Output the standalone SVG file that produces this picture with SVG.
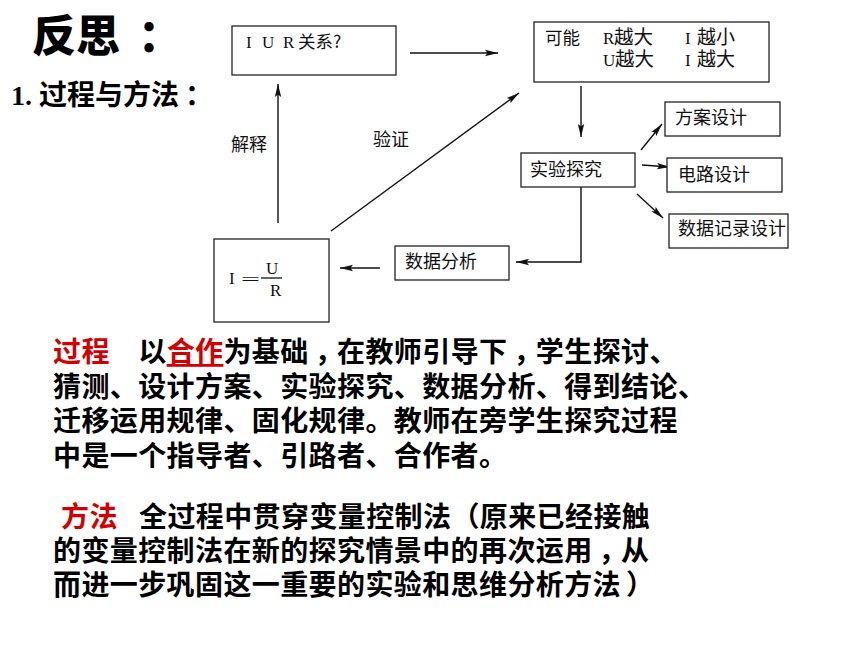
<svg xmlns="http://www.w3.org/2000/svg" width="860" height="645" viewBox="0 0 860 645">
<style>
.box{fill:#fff;stroke:#222;stroke-width:1.3}
.ln{fill:none;stroke:#111;stroke-width:1.4}
.lbl{font-family:"Liberation Serif","Noto Sans CJK SC",serif;font-size:17px;fill:#111}
.cjk{font-family:"Noto Sans CJK SC",sans-serif}
.cj{font-family:"Noto Sans CJK SC",sans-serif;font-size:18px;fill:#111}
.para{font-family:"Noto Sans CJK SC",sans-serif;font-size:28px;font-weight:700;letter-spacing:0.4px;fill:#000}
.red{fill:#d40000}
</style>
<defs>
<marker id="ah" markerUnits="userSpaceOnUse" markerWidth="14" markerHeight="8" refX="13" refY="4" orient="auto">
<path d="M0,0.8 L13,4 L0,7.2 L2.5,4 z" fill="#111"/>
</marker>
</defs>
<rect width="860" height="645" fill="#fff"/>

<text x="32" y="52" font-family="Noto Sans CJK SC,sans-serif" font-size="44" font-weight="900" fill="#000">反思<tspan dx="18">：</tspan></text>
<text x="11" y="105" font-family="Liberation Serif,Noto Sans CJK SC,serif" font-size="28" font-weight="700" fill="#000">1. <tspan font-family="Noto Sans CJK SC,sans-serif">过程与方法<tspan dx="6">：</tspan></tspan></text>

<g id="connectors">
<line class="ln" x1="410" y1="53" x2="498" y2="53" marker-end="url(#ah)"/>
<line class="ln" x1="581" y1="86" x2="581" y2="137" marker-end="url(#ah)"/>
<line class="ln" x1="641" y1="150" x2="662" y2="124" marker-end="url(#ah)"/>
<line class="ln" x1="642" y1="165" x2="670" y2="167" marker-end="url(#ah)"/>
<line class="ln" x1="637" y1="194" x2="663" y2="218" marker-end="url(#ah)"/>
<polyline class="ln" points="581,187 581,262 516,262" marker-end="url(#ah)"/>
<line class="ln" x1="380" y1="268" x2="340" y2="268" marker-end="url(#ah)"/>
<line class="ln" x1="278" y1="223" x2="278" y2="84" marker-end="url(#ah)"/>
<line class="ln" x1="331" y1="231" x2="519" y2="93" marker-end="url(#ah)"/>
<text class="cj" x="231" y="151" font-size="17.5">解释</text>
<text class="cj" x="373" y="146" font-size="17.5">验证</text>
</g>

<g id="node-iur">
<rect class="box" x="232" y="26" width="164" height="49"/>
<text class="lbl" y="48"><tspan x="246">I</tspan><tspan x="262">U</tspan><tspan x="283">R</tspan><tspan x="298" class="cjk" font-size="17.5">关系?</tspan></text>
</g>

<g id="node-possible">
<rect class="box" x="534" y="22" width="235" height="60"/>
<text class="lbl" y="44" font-size="16"><tspan x="545" class="cjk" font-size="17.5">可能</tspan><tspan x="603">R</tspan><tspan x="614" class="cjk" font-size="19.5">越大</tspan><tspan x="685">I</tspan><tspan x="697" class="cjk" font-size="19">越小</tspan></text>
<text class="lbl" y="66" font-size="16"><tspan x="603">U</tspan><tspan x="615" class="cjk" font-size="19.5">越大</tspan><tspan x="685">I</tspan><tspan x="697" class="cjk" font-size="19">越大</tspan></text>
</g>

<g id="node-experiment">
<rect class="box" x="521" y="153" width="114" height="34"/>
<text class="cj" x="530" y="176">实验探究</text>
</g>

<g id="node-plan">
<rect class="box" x="665" y="102" width="115" height="34"/>
<text class="cj" x="675" y="124">方案设计</text>
</g>

<g id="node-circuit">
<rect class="box" x="667" y="158" width="115" height="34"/>
<text class="cj" x="678" y="181">电路设计</text>
</g>

<g id="node-record">
<rect class="box" x="669" y="214" width="119" height="34"/>
<text class="cj" x="678" y="235" font-size="16.5">数据记录设计</text>
</g>

<g id="node-analysis">
<rect class="box" x="395" y="246" width="114" height="34"/>
<text class="cj" x="405" y="268">数据分析</text>
</g>

<g id="node-formula">
<rect class="box" x="214" y="239" width="115" height="83"/>
<text class="lbl" font-size="19" x="229" y="284">I</text>
<text class="lbl" font-size="22" x="241" y="285" textLength="19" lengthAdjust="spacingAndGlyphs">=</text>
<line x1="261" y1="278" x2="282" y2="278" stroke="#111" stroke-width="1.3"/>
<text class="lbl" font-size="19" x="266" y="274">U</text>
<text class="lbl" font-size="19" x="270" y="296">R</text>
</g>

<g id="paragraph-process">
<text class="para" x="53" y="362"><tspan class="red">过程</tspan>　以<tspan class="red" text-decoration="underline">合作</tspan>为基础<tspan dx="6">，</tspan><tspan dx="-6">在教师引导下</tspan><tspan dx="6">，</tspan><tspan dx="-6">学生探讨、</tspan></text>
<text class="para" x="53" y="396.5">猜测、设计方案、实验探究、数据分析、得到结论、</text>
<text class="para" x="53" y="431">迁移运用规律、固化规律。教师在旁学生探究过程</text>
<text class="para" x="53" y="465.5">中是一个指导者、引路者、合作者。</text>
</g>

<g id="paragraph-method">
<text class="para red" x="61" y="527">方法</text>
<text class="para" x="139" y="527">全过程中贯穿变量控制法（原来已经接触</text>
<text class="para" x="53" y="561">的变量控制法在新的探究情景中的再次运用<tspan dx="6">，</tspan><tspan dx="-6">从</tspan></text>
<text class="para" x="53" y="595">而进一步巩固这一重要的实验和思维分析方法<tspan dx="5">）</tspan></text>
</g>
</svg>
